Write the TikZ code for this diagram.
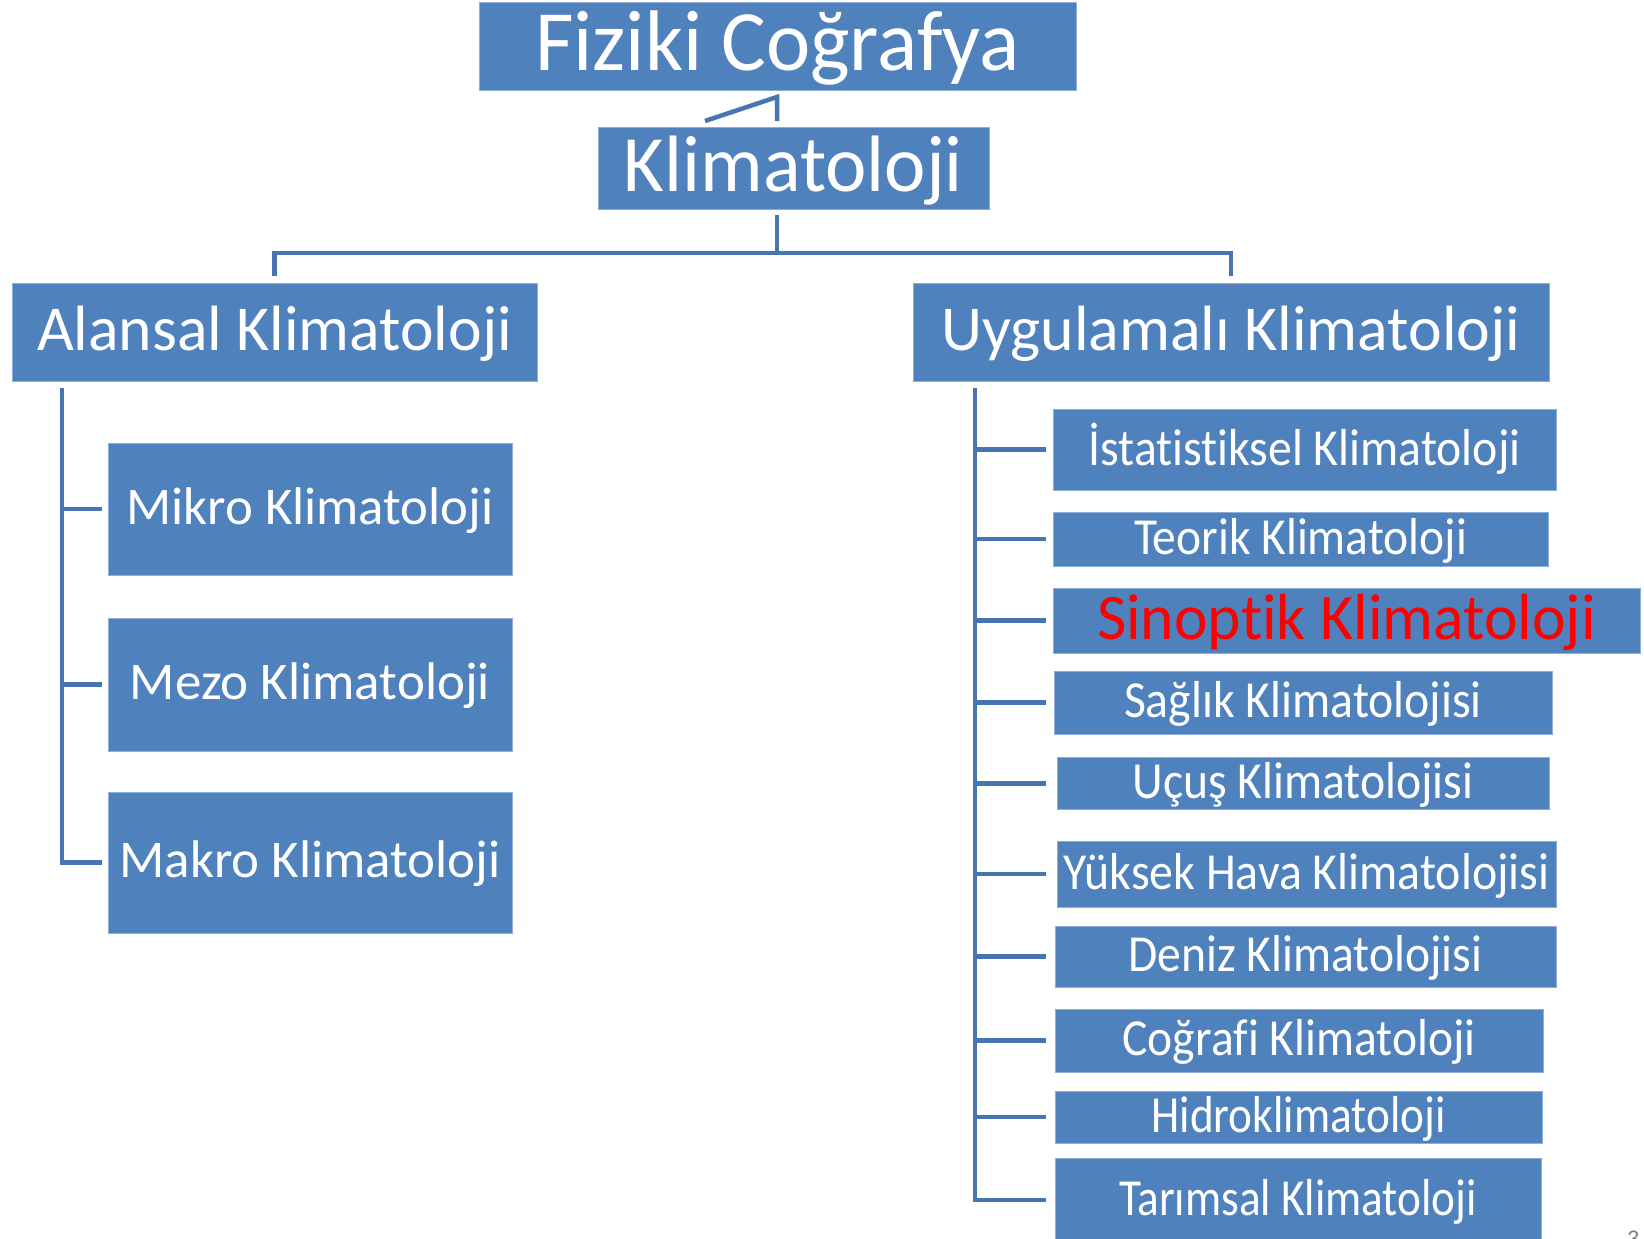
\documentclass[tikz,border=0pt]{standalone}
\usepackage{fontspec}
\setmainfont{Carlito}[Ligatures=NoCommon]
\usepackage{graphicx}
\definecolor{boxblue}{HTML}{4F81BD}
\definecolor{lineblue}{HTML}{4675B0}
\definecolor{edgeblue}{HTML}{8DAEDA}
\newcommand\tx[3]{\resizebox{#1pt}{\height}{\fontsize{#2pt}{#2pt}\selectfont\rule[-.21em]{0pt}{1em}#3}}
\begin{document}
\begin{tikzpicture}[x=1pt,y=-1pt,
  box/.style={fill=boxblue, draw=edgeblue, line width=0.8pt, inner sep=0pt, text=white, anchor=center},
  conn/.style={draw=lineblue, line width=4.5pt, line cap=butt, line join=miter}]
\useasboundingbox (0,0) rectangle (1644,1239);
% top level
\node[box, minimum width=597pt, minimum height=88pt] (fiz) at (777.5,46) {\tx{485}{86}{Fiziki Coğrafya}};
\node[box, minimum width=391pt, minimum height=82pt] (kli) at (793.5,168) {\tx{339}{80}{Klimatoloji}};
\node[box, minimum width=525pt, minimum height=98pt] (ala) at (274.5,332) {\tx{475}{64}{Alansal Klimatoloji}};
\node[box, minimum width=636pt, minimum height=98pt] (uyg) at (1231,332) {\tx{579}{64}{Uygulamalı Klimatoloji}};
% left column
\node[box, minimum width=404pt, minimum height=132pt] (mik) at (310,509) {\tx{367}{53}{Mikro Klimatoloji}};
\node[box, minimum width=404pt, minimum height=133pt] (mez) at (310,684.5) {\tx{360}{53}{Mezo Klimatoloji}};
\node[box, minimum width=404pt, minimum height=141pt] (mak) at (310,862.5) {\tx{381}{53}{Makro Klimatoloji}};
% right column
\node[box, minimum width=503pt, minimum height=81pt] (ist) at (1304.5,449.5) {\tx{432}{52}{İstatistiksel Klimatoloji}};
\node[box, minimum width=495pt, minimum height=54pt] (teo) at (1300.5,539) {\tx{333}{52}{Teorik Klimatoloji}};
\node[box, minimum width=587pt, minimum height=61pt, text=red] (sin) at (1346.5,620.5) {\tx{499}{65}{Sinoptik Klimatoloji}};
\node[box, minimum width=498pt, minimum height=63pt] (sag) at (1303,702.5) {\tx{358}{52}{Sağlık Klimatolojisi}};
\node[box, minimum width=492pt, minimum height=51pt] (ucu) at (1303,783.5) {\tx{341}{52}{Uçuş Klimatolojisi}};
\node[box, minimum width=499pt, minimum height=66pt] (yuk) at (1306.5,874) {\tx{486}{52}{Yüksek Hava Klimatolojisi}};
\node[box, minimum width=501pt, minimum height=61pt] (den) at (1305.5,956.5) {\tx{354}{52}{Deniz Klimatolojisi}};
\node[box, minimum width=488pt, minimum height=63pt] (cog) at (1299,1040.5) {\tx{353}{52}{Coğrafi Klimatoloji}};
\node[box, minimum width=487pt, minimum height=48pt] (hid) at (1298.5,1117) {\tx{294}{52}{Hidroklimatoloji}};
\node[box, minimum width=486pt, minimum height=83pt] (tar) at (1298,1200) {\tx{358}{52}{Tarımsal Klimatoloji}};
% page number (cut off at the edge, as in the reference)
\node[text=gray, font=\fontsize{24pt}{24pt}\selectfont, anchor=base west, inner sep=0pt] (pg) at (1627,1246) {3};
% connectors
\coordinate (kt) at (777,97);
\coordinate (dg) at (705,121);
\coordinate (kv) at (777,121);
\draw[conn] (dg) -- (kt) -- (kv);
\coordinate (kbt) at (777,215);
\coordinate (kb) at (777,253);
\coordinate (la) at (274.5,276);
\coordinate (ra) at (1231,276);
\draw[conn] (kbt) -- (kb);
\draw[conn] (la) |- (kb) -| (ra);
% left tree
\coordinate (lt) at (62,388);
\coordinate (lte) at (102,0);
\draw[conn] (lt) |- (mak.west -| lte);
\foreach \n in {mik,mez}{\draw[conn] (\n.west -| lt) -- (\n.west -| lte);}
% right tree
\coordinate (rt) at (975,388);
\coordinate (rte) at (1046,0);
\draw[conn] (rt) |- (tar.west -| rte);
\foreach \n in {ist,teo,sin,sag,ucu,yuk,den,cog,hid}{\draw[conn] (\n.west -| rt) -- (\n.west -| rte);}
\end{tikzpicture}
\end{document}
